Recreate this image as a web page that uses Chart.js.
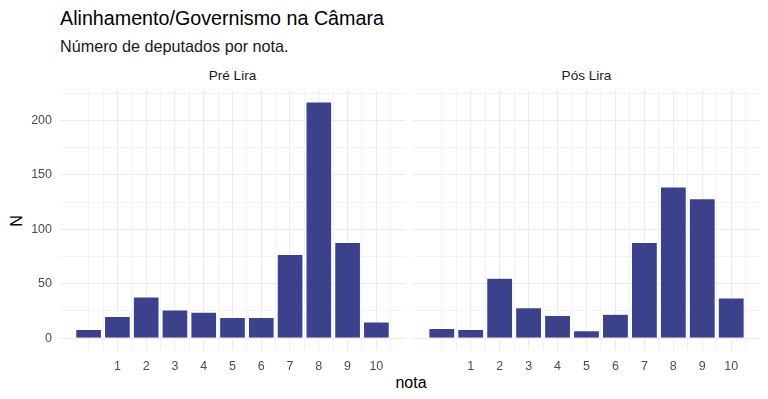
<!DOCTYPE html>
<html>
<head>
<meta charset="utf-8">
<script src="https://cdn.jsdelivr.net/npm/chart.js@4"></script>
<style>
    body { margin: 0; background: #fff; font-family: "Liberation Sans", Arial, sans-serif; }
    #wrap { position: relative; width: 768px; height: 399px; overflow: hidden; }
    .txt { position: absolute; white-space: nowrap; line-height: 1.15; }
    canvas { position: absolute; }
</style>
</head>
<body>
<div id="wrap">
    <div class="txt" style="left:60px; top:7px; font-size:19.7px; color:#000;">Alinhamento/Governismo na Câmara</div>
    <div class="txt" style="left:60px; top:37px; font-size:16.2px; color:#1a1a1a;">Número de deputados por nota.</div>
    <div class="txt" style="left:60px; width:345px; top:68px; font-size:13.6px; color:#1a1a1a; text-align:center;">Pré Lira</div>
    <div class="txt" style="left:413px; width:347px; top:68px; font-size:13.6px; color:#1a1a1a; text-align:center;">Pós Lira</div>
    <div class="txt" style="left:17px; top:221px; font-size:16px; color:#000; transform:translate(-50%,-50%) rotate(-90deg);">N</div>
    <div class="txt" style="left:311px; width:200px; top:374px; font-size:16px; color:#000; text-align:center;">nota</div>
    <canvas id="chartPre" style="left:0; top:80px;" width="408" height="295"></canvas>
    <canvas id="chartPos" style="left:413px; top:80px;" width="350" height="295"></canvas>
</div>
<script>
// Notas (0 a 10) e numero de deputados por nota
const notas = [0, 1, 2, 3, 4, 5, 6, 7, 8, 9, 10];
const preLira = [8, 20, 38, 26, 24, 19, 19, 77, 217, 88, 15];
const posLira = [9, 8, 55, 28, 21, 7, 22, 88, 139, 128, 37];

// Ticks
const xLabels = [1, 2, 3, 4, 5, 6, 7, 8, 9, 10];
const yLabels = [0, 50, 100, 150, 200];
const xGrid = [0, 0.5, 1, 1.5, 2, 2.5, 3, 3.5, 4, 4.5, 5, 5.5, 6, 6.5, 7, 7.5, 8, 8.5, 9, 9.5, 10, 10.5];
const yGrid = [0, 25, 50, 75, 100, 125, 150, 175, 200, 225];

const barColor = '#3C418C';
const gridColor = '#EBEBEB';
const tickColor = '#4D4D4D';

function isMajor(ctx, list) {
    return ctx.tick && list.includes(ctx.tick.value);
}

function makeChart(id, values, showY, padRight) {
    return new Chart(document.getElementById(id), {
        type: 'bar',
        data: {
            datasets: [{
                data: notas.map((n, i) => ({ x: n, y: values[i] })),
                backgroundColor: barColor,
                borderColor: 'rgba(255,255,255,0.6)',
                borderWidth: 0.6,
                // grid ticks every 0.5, so 1.8 gives bars 0.9 wide
                barPercentage: 1.8,
                categoryPercentage: 1
            }]
        },
        options: {
            responsive: false,
            animation: false,
            layout: { padding: { top: 10, right: padRight, left: 0, bottom: 0 } },
            plugins: { legend: { display: false }, tooltip: { enabled: false } },
            scales: {
                x: {
                    type: 'linear',
                    min: -0.995,
                    max: 10.995,
                    offset: false,
                    border: { display: false },
                    afterBuildTicks: axis => { axis.ticks = xGrid.map(v => ({ value: v })); },
                    afterFit: axis => { axis.height = 25; },
                    grid: {
                        offset: false,
                        color: gridColor,
                        lineWidth: ctx => isMajor(ctx, xLabels) ? 1.1 : 0.6,
                        drawTicks: false
                    },
                    ticks: {
                        autoSkip: false,
                        maxRotation: 0,
                        padding: 9,
                        color: tickColor,
                        font: { family: 'Liberation Sans', size: 12.5 },
                        callback: v => xLabels.includes(v) ? String(v) : ''
                    }
                },
                y: {
                    min: -10.85,
                    max: 227.85,
                    border: { display: false },
                    afterBuildTicks: axis => { axis.ticks = yGrid.map(v => ({ value: v })); },
                    afterFit: axis => {
                        axis.width = showY ? 60 : 0;
                        axis.paddingTop = 0;
                        axis.paddingBottom = 0;
                    },
                    grid: {
                        color: gridColor,
                        lineWidth: ctx => isMajor(ctx, yLabels) ? 1.1 : 0.6,
                        drawTicks: false
                    },
                    ticks: {
                        display: showY,
                        padding: 8,
                        color: tickColor,
                        font: { family: 'Liberation Sans', size: 12.5 },
                        callback: v => yLabels.includes(v) ? String(v) : ''
                    }
                }
            }
        }
    });
}

makeChart('chartPre', preLira, true, 3);
makeChart('chartPos', posLira, false, 3);
</script>
</body>
</html>
